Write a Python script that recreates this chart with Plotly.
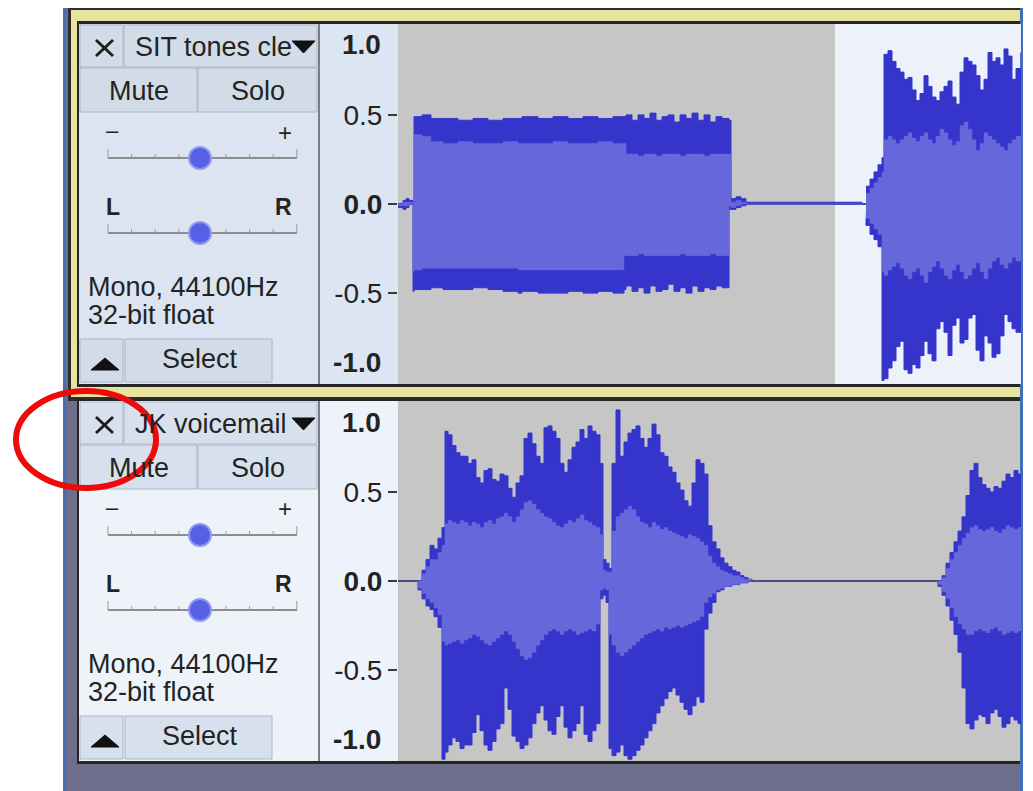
import plotly.graph_objects as go

# the page has the browser's default 8px body margin, so the figure is
# sized to the visible part of the 1033x791 window and coordinates below
# are given in window pixels, then shifted by that margin
OX, OY = 8, 8
W, H = 1033 - OX, 791 - OY
FONT = "Liberation Sans, Arial, sans-serif"

# ---- data (time in seconds, amplitude -1..1) ----
view_start, view_end = 0.0, 6.23
selection = [4.37, 6.23]          # selected region on track 1

track_names = ["SIT tones cle", "JK voicemail"]
track_info = ["Mono, 44100Hz", "32-bit float"]
ruler_ticks = [0.5, 0.0, -0.5]
ruler_text = ["0.5", "<b>0.0</b>", "-0.5"]

# track 1, segment 1: SIT tones
t1_tone = [0.00, 0.05, 0.08, 0.11, 0.15, 0.16, 0.24, 0.33, 0.45, 0.60, 0.75, 0.90, 1.05, 1.20, 1.24,
           1.40, 1.55, 1.70, 1.85, 2.00, 2.15, 2.26, 2.28, 2.34, 2.40, 2.46, 2.52, 2.58, 2.64, 2.70,
           2.76, 2.82, 2.88, 2.94, 3.00, 3.06, 3.12, 3.18, 3.24, 3.31, 3.33, 3.38, 3.43, 3.48, 4.64]
top1_tone = [0.00, 0.02, 0.03, 0.02, 0.00, 0.49, 0.50, 0.48, 0.48, 0.47, 0.48, 0.47, 0.48, 0.48, 0.49,
             0.48, 0.49, 0.48, 0.49, 0.48, 0.49, 0.49, 0.50, 0.47, 0.50, 0.48, 0.51, 0.47, 0.49, 0.50,
             0.46, 0.50, 0.48, 0.51, 0.47, 0.50, 0.46, 0.49, 0.48, 0.47, 0.03, 0.04, 0.03, 0.01, 0.00]
bot1_tone = [0.00, -0.02, -0.03, -0.02, 0.00, -0.49, -0.48, -0.48, -0.47, -0.48, -0.48, -0.47, -0.48, -0.49, -0.50,
             -0.49, -0.50, -0.50, -0.49, -0.50, -0.49, -0.50, -0.48, -0.46, -0.49, -0.47, -0.50, -0.46, -0.49, -0.48,
             -0.45, -0.49, -0.47, -0.50, -0.46, -0.49, -0.47, -0.48, -0.46, -0.47, -0.03, -0.03, -0.02, -0.01, 0.00]
rmst1_tone = [0.00, 0.01, 0.01, 0.01, 0.00, 0.39, 0.38, 0.35, 0.34, 0.35, 0.34, 0.34, 0.35, 0.34, 0.34,
              0.34, 0.35, 0.34, 0.34, 0.35, 0.34, 0.34, 0.28, 0.28, 0.27, 0.28, 0.28, 0.27, 0.28, 0.28,
              0.28, 0.27, 0.28, 0.28, 0.28, 0.27, 0.28, 0.28, 0.28, 0.28, 0.01, 0.02, 0.01, 0.00, 0.00]
rmsb1_tone = [0.00, -0.01, -0.01, -0.01, 0.00, -0.38, -0.37, -0.36, -0.36, -0.36, -0.36, -0.36, -0.36, -0.36, -0.37,
              -0.37, -0.37, -0.37, -0.37, -0.37, -0.37, -0.37, -0.29, -0.29, -0.29, -0.28, -0.29, -0.29, -0.29, -0.29,
              -0.29, -0.29, -0.28, -0.29, -0.29, -0.29, -0.29, -0.28, -0.29, -0.29, -0.01, -0.02, -0.01, 0.00, 0.00]

# track 1, segment 2: voice
t1_voice = [4.68, 4.72, 4.76, 4.80, 4.84, 4.86, 4.90, 4.94, 4.98, 5.02, 5.06, 5.10, 5.14, 5.18, 5.22,
            5.26, 5.30, 5.34, 5.38, 5.42, 5.46, 5.50, 5.54, 5.58, 5.62, 5.66, 5.70, 5.74, 5.78, 5.82,
            5.86, 5.90, 5.94, 5.98, 6.02, 6.06, 6.10, 6.14, 6.18, 6.23]
top1_voice = [0.10, 0.14, 0.18, 0.22, 0.26, 0.84, 0.86, 0.80, 0.76, 0.74, 0.70, 0.71, 0.64, 0.58, 0.62,
              0.72, 0.66, 0.60, 0.58, 0.63, 0.66, 0.69, 0.60, 0.56, 0.74, 0.82, 0.80, 0.78, 0.72, 0.64,
              0.70, 0.85, 0.80, 0.82, 0.78, 0.87, 0.83, 0.70, 0.76, 0.85]
bot1_voice = [-0.08, -0.12, -0.17, -0.20, -0.24, -0.99, -0.98, -0.92, -0.88, -0.80, -0.77, -0.93, -0.95, -0.90, -0.92,
              -0.85, -0.77, -0.84, -0.88, -0.70, -0.66, -0.72, -0.85, -0.68, -0.64, -0.78, -0.76, -0.64, -0.62, -0.82,
              -0.88, -0.74, -0.78, -0.86, -0.84, -0.74, -0.62, -0.66, -0.70, -0.72]
rmst1_voice = [0.06, 0.09, 0.12, 0.15, 0.18, 0.36, 0.38, 0.36, 0.34, 0.36, 0.38, 0.40, 0.37, 0.35, 0.38,
               0.40, 0.36, 0.34, 0.38, 0.42, 0.40, 0.36, 0.33, 0.35, 0.44, 0.46, 0.42, 0.36, 0.30, 0.34,
               0.40, 0.38, 0.36, 0.34, 0.32, 0.30, 0.34, 0.36, 0.38, 0.35]
rmsb1_voice = [-0.05, -0.08, -0.11, -0.14, -0.17, -0.38, -0.40, -0.37, -0.35, -0.33, -0.36, -0.40, -0.42, -0.38, -0.36,
               -0.40, -0.44, -0.38, -0.35, -0.32, -0.36, -0.40, -0.42, -0.37, -0.34, -0.38, -0.42, -0.40, -0.36, -0.33,
               -0.38, -0.42, -0.36, -0.32, -0.30, -0.34, -0.36, -0.33, -0.30, -0.32]

# track 2, segment 1
t2_a = [0.20, 0.24, 0.28, 0.32, 0.36, 0.40, 0.44, 0.47, 0.50, 0.54, 0.58, 0.62, 0.66, 0.70, 0.74, 0.78, 0.82,
        0.86, 0.90, 0.94, 0.98, 1.02, 1.06, 1.10, 1.14, 1.18, 1.22, 1.26, 1.30, 1.34, 1.38, 1.42, 1.46, 1.50,
        1.54, 1.58, 1.62, 1.66, 1.70, 1.74, 1.78, 1.82, 1.86, 1.90, 1.94, 1.98, 2.02, 2.05, 2.08, 2.11, 2.14,
        2.18, 2.22, 2.26, 2.30, 2.34, 2.38, 2.42, 2.46, 2.50, 2.54, 2.58, 2.62, 2.66, 2.70, 2.74, 2.78, 2.82,
        2.86, 2.90, 2.94, 2.98, 3.02, 3.06, 3.10, 3.14, 3.18, 3.22, 3.26, 3.30, 3.34, 3.38, 3.42, 3.46, 3.50, 3.54]
top2_a = [0.00, 0.06, 0.12, 0.20, 0.18, 0.24, 0.30, 0.84, 0.82, 0.76, 0.72, 0.70, 0.70, 0.66, 0.68, 0.58, 0.55,
          0.62, 0.63, 0.57, 0.56, 0.60, 0.59, 0.52, 0.47, 0.55, 0.59, 0.80, 0.83, 0.77, 0.70, 0.66, 0.86, 0.87,
          0.84, 0.80, 0.66, 0.61, 0.68, 0.75, 0.78, 0.85, 0.80, 0.87, 0.84, 0.82, 0.66, 0.12, 0.10, 0.07, 0.66,
          0.96, 0.70, 0.78, 0.83, 0.85, 0.87, 0.80, 0.75, 0.80, 0.88, 0.82, 0.72, 0.70, 0.64, 0.61, 0.55, 0.51,
          0.45, 0.42, 0.55, 0.68, 0.66, 0.60, 0.31, 0.22, 0.18, 0.13, 0.10, 0.08, 0.06, 0.05, 0.03, 0.02, 0.01, 0.00]
bot2_a = [0.00, -0.05, -0.10, -0.14, -0.16, -0.20, -0.26, -1.00, -0.96, -0.92, -0.88, -0.90, -0.94, -0.92, -0.92,
          -0.85, -0.75, -0.84, -0.92, -0.95, -0.90, -0.83, -0.80, -0.60, -0.72, -0.87, -0.90, -0.94, -0.92, -0.88,
          -0.80, -0.74, -0.70, -0.78, -0.84, -0.86, -0.76, -0.70, -0.82, -0.88, -0.84, -0.80, -0.70, -0.86, -0.90,
          -0.84, -0.80, -0.10, -0.08, -0.12, -0.94, -0.98, -0.96, -0.92, -0.98, -1.00, -0.98, -0.95, -0.92, -0.88,
          -0.84, -0.80, -0.74, -0.70, -0.66, -0.62, -0.60, -0.64, -0.68, -0.72, -0.75, -0.70, -0.65, -0.68, -0.27,
          -0.18, -0.12, -0.06, -0.05, -0.03, -0.03, -0.02, -0.02, -0.01, -0.01, 0.00]
rmst2_a = [0.00, 0.04, 0.08, 0.12, 0.12, 0.16, 0.20, 0.32, 0.34, 0.33, 0.32, 0.34, 0.33, 0.31, 0.33, 0.32, 0.30,
           0.33, 0.34, 0.32, 0.35, 0.36, 0.38, 0.36, 0.33, 0.36, 0.40, 0.44, 0.45, 0.43, 0.40, 0.38, 0.36, 0.35,
           0.33, 0.31, 0.30, 0.32, 0.34, 0.33, 0.35, 0.37, 0.34, 0.33, 0.31, 0.30, 0.26, 0.06, 0.05, 0.05, 0.28,
           0.36, 0.38, 0.40, 0.42, 0.40, 0.36, 0.33, 0.32, 0.30, 0.33, 0.31, 0.29, 0.30, 0.28, 0.27, 0.26, 0.25,
           0.24, 0.26, 0.25, 0.24, 0.22, 0.20, 0.14, 0.10, 0.08, 0.06, 0.05, 0.04, 0.03, 0.03, 0.02, 0.01, 0.01, 0.00]
rmsb2_a = [0.00, -0.04, -0.07, -0.10, -0.12, -0.15, -0.19, -0.34, -0.36, -0.35, -0.34, -0.33, -0.35, -0.33, -0.32,
           -0.30, -0.31, -0.33, -0.35, -0.36, -0.34, -0.32, -0.30, -0.28, -0.30, -0.34, -0.38, -0.42, -0.44, -0.43,
           -0.40, -0.36, -0.33, -0.30, -0.28, -0.27, -0.28, -0.30, -0.28, -0.27, -0.28, -0.30, -0.29, -0.28, -0.27,
           -0.28, -0.24, -0.05, -0.04, -0.05, -0.30, -0.36, -0.40, -0.42, -0.40, -0.38, -0.36, -0.34, -0.32, -0.30,
           -0.29, -0.28, -0.27, -0.28, -0.26, -0.27, -0.26, -0.25, -0.26, -0.25, -0.24, -0.23, -0.22, -0.20, -0.12,
           -0.09, -0.07, -0.05, -0.04, -0.03, -0.03, -0.02, -0.02, -0.01, -0.01, 0.00]

# track 2, segment 2
t2_b = [5.40, 5.44, 5.48, 5.52, 5.56, 5.60, 5.64, 5.68, 5.72, 5.76, 5.80, 5.84, 5.88, 5.92, 5.96, 6.00,
        6.04, 6.08, 6.12, 6.16, 6.20, 6.23]
top2_b = [0.00, 0.03, 0.10, 0.16, 0.22, 0.28, 0.36, 0.48, 0.62, 0.66, 0.58, 0.54, 0.52, 0.50, 0.53, 0.52,
          0.56, 0.60, 0.58, 0.62, 0.60, 0.58]
bot2_b = [0.00, -0.03, -0.08, -0.14, -0.22, -0.30, -0.40, -0.60, -0.80, -0.83, -0.78, -0.75, -0.76, -0.80,
          -0.74, -0.72, -0.76, -0.82, -0.80, -0.76, -0.78, -0.80]
rmst2_b = [0.00, 0.02, 0.07, 0.12, 0.16, 0.20, 0.24, 0.27, 0.30, 0.31, 0.29, 0.28, 0.29, 0.30, 0.28, 0.27,
           0.29, 0.31, 0.30, 0.29, 0.30, 0.30]
rmsb2_b = [0.00, -0.02, -0.06, -0.10, -0.15, -0.20, -0.24, -0.27, -0.30, -0.30, -0.28, -0.27, -0.28, -0.29,
           -0.27, -0.26, -0.28, -0.30, -0.29, -0.28, -0.29, -0.28]

tracks = [
    [(t1_tone, top1_tone, bot1_tone, rmst1_tone, rmsb1_tone),
     (t1_voice, top1_voice, bot1_voice, rmst1_voice, rmsb1_voice)],
    [(t2_a, top2_a, bot2_a, rmst2_a, rmsb2_a),
     (t2_b, top2_b, bot2_b, rmst2_b, rmsb2_b)],
]

PEAK = "#3535cc"
RMS = "#6767dc"
ZERO = "#4a4e7c"


def X(x):
    return (x - OX) / W


def Y(y):
    return 1 - (y - OY) / H


def box(x0, y0, x1, y1, fill, line=None, width=0, layer="below"):
    return dict(type="rect", xref="paper", yref="paper", x0=X(x0), x1=X(x1),
                y0=Y(y1), y1=Y(y0), fillcolor=fill,
                line=dict(color=line or fill, width=width), layer=layer)


def seg(x0, y0, x1, y1, color, width):
    return dict(type="line", xref="paper", yref="paper", x0=X(x0), y0=Y(y0),
                x1=X(x1), y1=Y(y1), line=dict(color=color, width=width), layer="below")


def tri(pts, color):
    path = "M " + " L ".join(f"{X(x)},{Y(y)}" for x, y in pts) + " Z"
    return dict(type="path", xref="paper", yref="paper", path=path, fillcolor=color,
                line=dict(color=color, width=1), layer="below")


def text(x, y, s, size=27, anchor="center", color="#232323"):
    return dict(x=X(x), y=Y(y), xref="paper", yref="paper", text=s, showarrow=False,
                xanchor=anchor, yanchor="middle", font=dict(family=FONT, size=size, color=color))


shapes = []
annotations = []

# window chrome
shapes.append(box(63, 2, 1023, 800, "#6d6f8d"))
shapes.append(box(68, 5, 1021, 401, "#2d2d2d"))
shapes.append(box(71, 10, 1021, 397, "#e6e49e"))
shapes.append(box(77, 21, 1021, 387, "#262626"))
shapes.append(box(77, 399, 1021, 764, "#262626"))

styles = [
    dict(bg="#dbe4f0", btn="#d2dce9", ruler="#dce6f3"),
    dict(bg="#eef3fa", btn="#d7e1ed", ruler="#eef3fb"),
]

for i, st in enumerate(styles):
    o = 377 * i
    shapes.append(box(79, 24 + o, 318, 384 + o, st["bg"]))
    shapes.append(box(318, 24 + o, 320, 384 + o, "#7c7c84"))
    shapes.append(box(320, 24 + o, 398, 384 + o, st["ruler"]))
    shapes.append(box(398, 24 + o, 1021, 384 + o, "#c6c6c6"))
    # buttons
    for bx in [(80, 25, 123, 67), (124, 25, 317, 67), (80, 68, 197, 112),
               (198, 68, 317, 112), (80, 339, 123, 382), (125, 339, 272, 382)]:
        shapes.append(box(bx[0], bx[1] + o, bx[2], bx[3] + o, st["btn"], "#aab5c5", 1))
    # close cross
    shapes.append(seg(96, 40 + o, 113, 56 + o, "#1e1e1e", 3))
    shapes.append(seg(96, 56 + o, 113, 40 + o, "#1e1e1e", 3))
    # menu / collapse triangles
    shapes.append(tri([(292, 41 + o), (315, 41 + o), (303.5, 53 + o)], "#111111"))
    shapes.append(tri([(91, 370 + o), (119, 370 + o), (105, 358 + o)], "#111111"))
    # gain & pan sliders
    for sy in (158 + o, 233 + o):
        shapes.append(seg(108, sy, 297, sy, "#8c8c8c", 2))
        for k in range(9):
            tx = 108 + 23.6 * k
            shapes.append(seg(tx, sy - (9 if k in (0, 8) else 4), tx, sy, "#9a9a9a", 1))
        shapes.append(dict(type="circle", xref="paper", yref="paper",
                           x0=X(189), x1=X(211), y0=Y(sy + 11), y1=Y(sy - 11),
                           fillcolor="#5560e6", line=dict(color="#8f97f0", width=2), layer="below"))

    annotations += [
        text(133, 47 + o, track_names[i], anchor="left"),
        text(139, 91 + o, "Mute"), text(258, 91 + o, "Solo"),
        text(112, 130 + o, "–", size=22), text(285, 132 + o, "+", size=24),
        text(113, 207 + o, "<b>L</b>", size=23), text(283, 207 + o, "<b>R</b>", size=23),
        text(86, 287 + o, track_info[0], anchor="left"),
        text(86, 315 + o, track_info[1], anchor="left"),
        text(200, 359 + o, "Select"),
        text(383, 45 + o, "<b>1.0</b>", size=28, anchor="right"),
        text(383, 362 + o, "<b>-1.0</b>", size=28, anchor="right"),
    ]

# blue window border on top of the chrome
shapes.append(dict(type="rect", xref="paper", yref="paper", x0=X(64.5), x1=X(1021.5),
                   y0=-0.02, y1=Y(3.5), line=dict(color="#3f6fb8", width=3), layer="below"))

# selection on track 1 (data coordinates)
shapes.append(dict(type="rect", xref="x", yref="y domain", x0=selection[0], x1=selection[1],
                   y0=0, y1=1, fillcolor="#edf1fa", line=dict(width=0), layer="below"))

# highlight ellipse
shapes.append(dict(type="circle", xref="paper", yref="paper", x0=X(16), x1=X(156),
                   y0=Y(488), y1=Y(391), line=dict(color="#ee0a0a", width=6),
                   fillcolor="rgba(0,0,0,0)", layer="above"))

fig = go.Figure()
for i, segments in enumerate(tracks):
    xa = "x" if i == 0 else "x2"
    ya = "y" if i == 0 else "y2"
    fig.add_trace(go.Scatter(x=[view_start, view_end], y=[0, 0], mode="lines",
                             line=dict(color=ZERO, width=2), xaxis=xa, yaxis=ya,
                             hoverinfo="skip", showlegend=False))
    for t, top, bot, rt, rb in segments:
        fig.add_trace(go.Scatter(x=t + t[::-1], y=top + bot[::-1], mode="lines", fill="toself",
                                 fillcolor=PEAK, line=dict(color=PEAK, width=1, shape="hv"),
                                 xaxis=xa, yaxis=ya, hoverinfo="skip", showlegend=False))
        fig.add_trace(go.Scatter(x=t + t[::-1], y=rt + rb[::-1], mode="lines", fill="toself",
                                 fillcolor=RMS, line=dict(color=RMS, width=0.5, shape="hv"),
                                 xaxis=xa, yaxis=ya, hoverinfo="skip", showlegend=False))

yax = dict(range=[-1.01, 1.01], tickvals=ruler_ticks, ticktext=ruler_text, ticks="outside",
           ticklen=9, tickwidth=2, tickcolor="#3a3a3a", showgrid=False, zeroline=False,
           showline=False, fixedrange=True,
           tickfont=dict(family=FONT, size=28, color="#232323"))
xax = dict(range=[view_start, view_end], visible=False, showgrid=False, zeroline=False,
           domain=[X(398), X(1021)])

fig.update_layout(
    width=W, height=H,
    margin=dict(l=0, r=0, t=0, b=0),
    paper_bgcolor="white",
    plot_bgcolor="rgba(0,0,0,0)",
    xaxis=dict(xax, anchor="y"),
    xaxis2=dict(xax, anchor="y2"),
    yaxis=dict(yax, domain=[Y(384), Y(24)], anchor="x"),
    yaxis2=dict(yax, domain=[Y(761), Y(401)], anchor="x2"),
    shapes=shapes,
    annotations=annotations,
    showlegend=False,
)

fig.write_html("out.html")
